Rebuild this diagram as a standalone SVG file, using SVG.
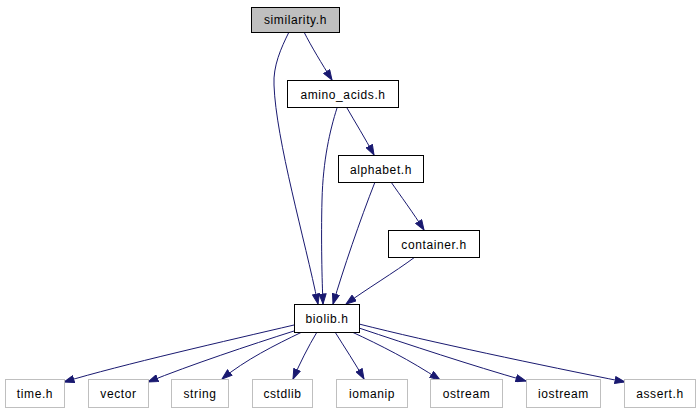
<svg xmlns="http://www.w3.org/2000/svg" width="699" height="411" viewBox="0 0 699 411">
<style>
.n rect{fill:#fff;stroke:#000;stroke-width:1}
.g rect{fill:#fff;stroke:#bfbfbf;stroke-width:1}
.h rect{fill:#bfbfbf;stroke:#000;stroke-width:1}
text{font-family:"Liberation Sans",Arial,sans-serif;font-size:12px;letter-spacing:0.6px;text-anchor:middle;fill:#000}
#edges path{fill:none;stroke:#191970;stroke-width:1;marker-end:url(#ah)}
</style>
<defs>
<marker id="ah" markerUnits="userSpaceOnUse" markerWidth="11" markerHeight="8" viewBox="0 0 11 8" refX="10.5" refY="4" orient="auto">
<path d="M0.5,0.5 L10.5,4 L0.5,7.5 z" fill="#191970" stroke="#191970" stroke-width="1"/>
</marker>
</defs>
<rect width="699" height="411" fill="#fff"/>
<g id="edges">
<path d="M304,32 C311,46 322,64 332,80"/>
<path d="M289,32 C281,48 273,66 274,85 C276,140 305,240 318,304"/>
<path d="M337,108 C330,130 323,160 322,200 C321,240 322,280 323,304"/>
<path d="M347,108 C355,122 365,138 374,155"/>
<path d="M375,182 C360,220 343,270 333,304"/>
<path d="M391,182 C400,195 414,214 424,230"/>
<path d="M415,257 C395,272 365,290 346,304"/>
<path d="M294,325 C230,340 120,365 64,382"/>
<path d="M294,331 C250,345 190,365 148,382"/>
<path d="M302,332 C275,345 245,360 222,379"/>
<path d="M317,332 C308,347 300,363 293,379"/>
<path d="M335,332 C345,348 355,363 364,379"/>
<path d="M352,332 C380,345 410,360 440,380"/>
<path d="M359,328 C410,345 470,365 526,381"/>
<path d="M359,324 C430,342 540,365 625,382"/>
</g>
<g id="similarity" class="h"><rect x="251.5" y="7.5" width="88" height="25"/><text x="295.5" y="24">similarity.h</text></g>
<g id="amino_acids" class="n"><rect x="287.5" y="80.5" width="111" height="27"/><text x="343" y="98.5">amino_acids.h</text></g>
<g id="alphabet" class="n"><rect x="338.5" y="155.5" width="85" height="27"/><text x="381" y="173.5">alphabet.h</text></g>
<g id="container" class="n"><rect x="388.5" y="230.5" width="91" height="27"/><text x="434" y="248.5">container.h</text></g>
<g id="biolib" class="n"><rect x="294.5" y="304.5" width="65" height="28"/><text x="327" y="323">biolib.h</text></g>
<g id="time" class="g"><rect x="5.5" y="379.5" width="59" height="28"/><text x="35" y="398">time.h</text></g>
<g id="vector" class="g"><rect x="88.5" y="379.5" width="60" height="28"/><text x="118.5" y="398">vector</text></g>
<g id="string" class="g"><rect x="171.5" y="379.5" width="57" height="28"/><text x="200" y="398">string</text></g>
<g id="cstdlib" class="g"><rect x="252.5" y="379.5" width="60" height="28"/><text x="282.5" y="398">cstdlib</text></g>
<g id="iomanip" class="g"><rect x="336.5" y="379.5" width="71" height="28"/><text x="372" y="398">iomanip</text></g>
<g id="ostream" class="g"><rect x="430.5" y="379.5" width="72" height="28"/><text x="466.5" y="398">ostream</text></g>
<g id="iostream" class="g"><rect x="526.5" y="379.5" width="74" height="28"/><text x="563.5" y="398">iostream</text></g>
<g id="assert" class="g"><rect x="624.5" y="379.5" width="71" height="28"/><text x="660" y="398">assert.h</text></g>
</svg>
